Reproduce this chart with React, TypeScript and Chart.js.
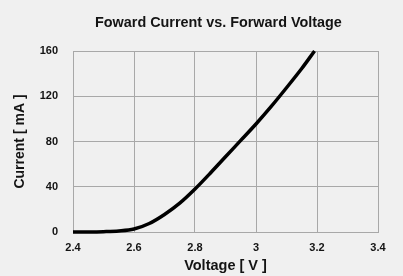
import React, { useEffect, useRef } from "react";
import { Chart, registerables } from "chart.js";

Chart.register(...registerables);

const chartTitle = "Foward Current vs. Forward Voltage";
const xAxisTitle = "Voltage [ V ]";
const yAxisTitle = "Current [ mA ]";

const voltage = [2.4, 2.45, 2.5, 2.55, 2.6, 2.65, 2.7, 2.75, 2.8, 2.85, 2.9, 2.95, 3.0, 3.05, 3.1, 3.15, 3.192];
const current = [0, 0.05, 0.3, 0.9, 2.6, 7.5, 15.5, 25.5, 38, 52, 66.5, 81, 95.5, 111, 127.5, 144.5, 160];

const xTickLabels = ["2.4", "2.6", "2.8", "3", "3.2", "3.4"];
const yTickLabels = ["0", "40", "80", "120", "160"];

const FONT = "'Liberation Sans', Arial, Helvetica, sans-serif";
const TEXT = "#141414";
const GRID = "#a8a8a8";
const BG = "#f0f0f0";

const titlePlugin = {
  id: "customTitle",
  afterDraw(chart: any) {
    const ctx = chart.ctx;
    ctx.save();
    ctx.font = `bold 14.4px ${FONT}`;
    ctx.fillStyle = TEXT;
    ctx.textAlign = "center";
    ctx.textBaseline = "alphabetic";
    ctx.fillText(chartTitle, chart.width * 0.542, 27);
    ctx.restore();
  },
};

export default function App() {
  const ref = useRef<HTMLCanvasElement>(null);
  useEffect(() => {
    if (!ref.current) return;
    const chart = new Chart(ref.current, {
      type: "line",
      data: {
        datasets: [
          {
            data: voltage.map((v, i) => ({ x: v, y: current[i] })),
            borderColor: "#000000",
            borderWidth: 3.5,
            pointRadius: 0,
            cubicInterpolationMode: "monotone",
            fill: false,
            clip: 4,
          },
        ],
      },
      options: {
        animation: false,
        responsive: false,
        maintainAspectRatio: false,
        layout: { padding: { top: 51, right: 25, left: 0, bottom: 0 } },
        plugins: { legend: { display: false }, tooltip: { enabled: false }, title: { display: false } },
        scales: {
          x: {
            type: "linear",
            min: 2.4,
            max: 3.4,
            afterFit(scale: any) {
              scale.height = 44;
            },
            afterBuildTicks(scale: any) {
              scale.ticks = xTickLabels.map((l) => ({ value: parseFloat(l) }));
            },
            ticks: {
              callback: (_v: any, i: number) => xTickLabels[i],
              font: { family: FONT, size: 11, weight: "bold" },
              color: TEXT,
              padding: 9,
              maxRotation: 0,
            },
            grid: { color: GRID, lineWidth: 1, drawTicks: false },
            border: { color: GRID, width: 1 },
            title: {
              display: true,
              text: xAxisTitle,
              font: { family: FONT, size: 14.5, weight: "bold" },
              color: TEXT,
              padding: { top: 0, bottom: 1 },
            },
          },
          y: {
            type: "linear",
            min: 0,
            max: 160,
            afterFit(scale: any) {
              scale.width = 73;
            },
            afterBuildTicks(scale: any) {
              scale.ticks = yTickLabels.map((l) => ({ value: parseFloat(l) }));
            },
            ticks: {
              callback: (_v: any, i: number) => yTickLabels[i],
              font: { family: FONT, size: 11, weight: "bold" },
              color: TEXT,
              padding: 15,
            },
            grid: { color: GRID, lineWidth: 1, drawTicks: false },
            border: { color: GRID, width: 1 },
            title: {
              display: true,
              text: yAxisTitle,
              font: { family: FONT, size: 14, weight: "bold" },
              color: TEXT,
              padding: { top: 12, bottom: 0 },
            },
          },
        },
      },
      plugins: [titlePlugin],
    } as any);
    return () => chart.destroy();
  }, []);
  return (
    <div style={{ position: "fixed", left: 0, top: 0, width: 403, height: 276, background: BG }}>
      <canvas ref={ref} width={403} height={276} style={{ display: "block", width: 403, height: 276 }} />
    </div>
  );
}
